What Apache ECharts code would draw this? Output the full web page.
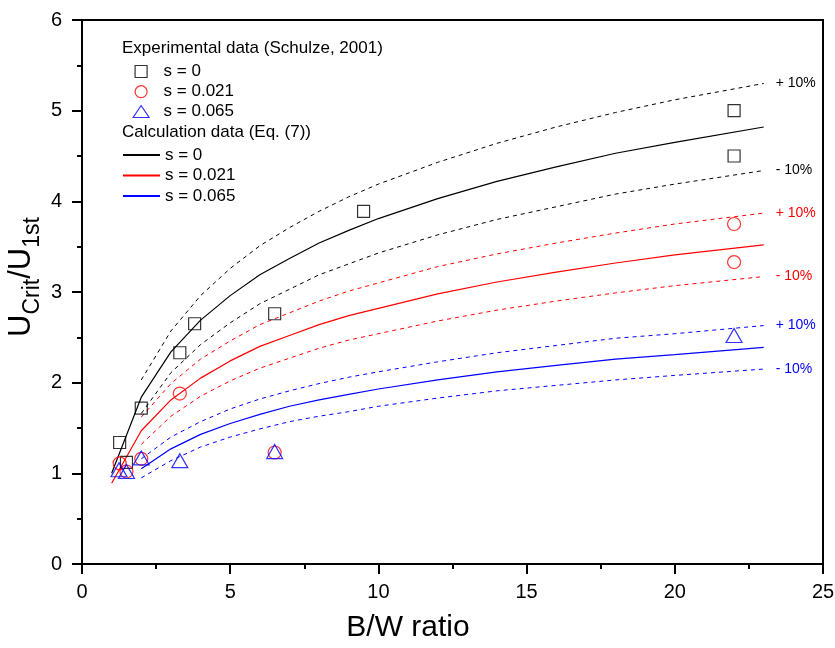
<!DOCTYPE html>
<html><head><meta charset="utf-8">
<script src="https://cdn.jsdelivr.net/npm/echarts@6/dist/echarts.min.js"></script>
<style>html,body{margin:0;padding:0;background:#fff}#c{width:835px;height:648px}</style>
</head><body><div id="c"></div>
<script>
// ---- Experimental data (Schulze, 2001) ----
const expBW_s0    = [1.27, 1.5, 2.0, 3.3, 3.8, 6.5, 9.5, 22, 22];
const expU_s0     = [1.34, 1.12, 1.72, 2.33, 2.65, 2.76, 3.89, 5.00, 4.50];
const expBW_s021  = [1.27, 1.5, 2.0, 3.3, 6.5, 22, 22];
const expU_s021   = [1.11, 1.02, 1.16, 1.88, 1.23, 3.75, 3.33];
const expBW_s065  = [1.25, 1.5, 2.0, 3.3, 6.5, 22];
const expU_s065   = [1.04, 1.02, 1.17, 1.14, 1.24, 2.52];

// ---- Calculation data (Eq. (7)) ----
const calcBW      = [1, 2, 3, 4, 5, 6, 7, 8, 9, 10, 12, 14, 16, 18, 20, 23];
const calcU_s0    = [1.00, 1.84, 2.34, 2.69, 2.96, 3.19, 3.37, 3.54, 3.68, 3.81, 4.03, 4.22, 4.38, 4.53, 4.65, 4.82];
const calcU_s021  = [0.89, 1.47, 1.81, 2.05, 2.24, 2.40, 2.52, 2.64, 2.74, 2.82, 2.98, 3.11, 3.22, 3.32, 3.41, 3.52];
const bandBW      = [2, 3, 4, 5, 6, 7, 8, 9, 10, 12, 14, 16, 18, 20, 23];
const calcU_s065  = [1.05, 1.27, 1.43, 1.55, 1.65, 1.74, 1.81, 1.87, 1.93, 2.03, 2.12, 2.19, 2.26, 2.31, 2.39];
const upU_s0      = [2.03, 2.57, 2.96, 3.26, 3.51, 3.71, 3.89, 4.05, 4.19, 4.43, 4.64, 4.82, 4.98, 5.12, 5.30];
const loU_s0      = [1.66, 2.11, 2.42, 2.66, 2.87, 3.03, 3.19, 3.31, 3.43, 3.63, 3.80, 3.94, 4.08, 4.19, 4.34];
const upU_s021    = [1.62, 1.99, 2.26, 2.46, 2.64, 2.77, 2.90, 3.01, 3.10, 3.28, 3.42, 3.54, 3.65, 3.75, 3.87];
const loU_s021    = [1.32, 1.63, 1.85, 2.02, 2.16, 2.27, 2.38, 2.47, 2.54, 2.68, 2.80, 2.90, 2.99, 3.07, 3.17];
const upU_s065    = [1.16, 1.40, 1.57, 1.71, 1.82, 1.91, 1.99, 2.06, 2.12, 2.23, 2.33, 2.41, 2.49, 2.54, 2.63];
const loU_s065    = [0.95, 1.14, 1.29, 1.40, 1.49, 1.57, 1.63, 1.68, 1.74, 1.83, 1.91, 1.97, 2.03, 2.08, 2.15];

// ---- Labels ----
const seriesLabels = ['s = 0', 's = 0.021', 's = 0.065'];
const plusLabel  = '+ 10%';
const minusLabel = '- 10%';
const xTicks = [0, 5, 10, 15, 20, 25];
const yTicks = [0, 1, 2, 3, 4, 5, 6];

const FONT = '"Liberation Sans", Arial, Helvetica, sans-serif';
const BLACK = '#000000', RED = '#ff0000', BLUE = '#0000ff';
const pairs = (xs, ys) => xs.map((x, i) => [x, ys[i]]);

function expSeries(name, xs, ys, symbol, size, color) {
  return { type: 'scatter', name, data: pairs(xs, ys), symbol, symbolSize: size,
    itemStyle: { color: 'rgba(0,0,0,0)', borderColor: color, borderWidth: 1.2 },
    z: 5, silent: true };
}
function calcSeries(name, xs, ys, color) {
  return { type: 'line', name, data: pairs(xs, ys), symbol: 'none', showSymbol: false,
    lineStyle: { color, width: 1.2 }, itemStyle: { color }, z: 3, silent: true };
}
function bandSeries(name, xs, ys, color, label) {
  return { type: 'line', name, data: pairs(xs, ys), symbol: 'none', showSymbol: false,
    lineStyle: { color, width: 1, type: [4, 4] }, itemStyle: { color }, z: 2, silent: true,
    endLabel: { show: true, formatter: label, color, fontSize: 14, fontFamily: FONT, distance: 12 } };
}

const chart = echarts.init(document.getElementById('c'), null, { renderer: 'canvas' });
const axisLine = { show: true, onZero: false, lineStyle: { color: '#000', width: 2 } };
const legendText = { color: '#000', fontSize: 17, fontFamily: FONT };

chart.setOption({
  animation: false,
  backgroundColor: '#fff',
  grid: { left: 82, right: 12, top: 20, bottom: 84, containLabel: false, outerBoundsMode: 'none',
    show: true, borderColor: '#000', borderWidth: 2, backgroundColor: 'transparent' },
  xAxis: {
    type: 'value', min: xTicks[0], max: xTicks[xTicks.length - 1], interval: 5,
    axisLine, splitLine: { show: false },
    axisTick: { show: true, inside: false, length: 10, lineStyle: { color: '#000', width: 2 } },
    minorTick: { show: true, splitNumber: 2, length: 5, lineStyle: { color: '#000', width: 2 } },
    axisLabel: { color: '#000', fontSize: 20, fontFamily: FONT, margin: 18 },
    name: 'B/W ratio', nameLocation: 'middle', nameGap: 49, nameMoveOverlap: false,
    nameTextStyle: { color: '#000', fontSize: 30, fontFamily: FONT, padding: [0, 89, 0, 0] }
  },
  yAxis: {
    type: 'value', min: yTicks[0], max: yTicks[yTicks.length - 1], interval: 1,
    axisLine, splitLine: { show: false },
    axisTick: { show: true, inside: false, length: 10, lineStyle: { color: '#000', width: 2 } },
    minorTick: { show: true, splitNumber: 2, length: 5, lineStyle: { color: '#000', width: 2 } },
    axisLabel: { color: '#000', fontSize: 20, fontFamily: FONT, margin: 20 },
    name: '{m|U}{s|Crit}{m|/U}{s|1st}', nameLocation: 'middle', nameRotate: 90, nameGap: 38,
    nameMoveOverlap: false,
    nameTextStyle: {
      padding: [0, 0, 0, 30],
      rich: {
        m: { fontSize: 31, fontFamily: FONT, color: '#000', verticalAlign: 'bottom', lineHeight: 31, padding: [0, 0, 7, 0] },
        s: { fontSize: 23, fontFamily: FONT, color: '#000', verticalAlign: 'bottom', lineHeight: 23 }
      }
    }
  },
  legend: [
    {
      left: 134.5, top: 63, orient: 'vertical', padding: 0, itemGap: 3.2, itemWidth: 12, itemHeight: 12,
      selectedMode: false, textStyle: Object.assign({ padding: [0, 0, 0, 11.5] }, legendText),
      data: [
        { name: seriesLabels[0], icon: 'rect', itemStyle: { color: 'rgba(0,0,0,0)', borderColor: BLACK, borderWidth: 1.2 } },
        { name: seriesLabels[1], icon: 'circle', itemStyle: { color: 'rgba(0,0,0,0)', borderColor: RED, borderWidth: 1.2 } }
      ]
    },
    {
      left: 132.5, top: 103, orient: 'vertical', padding: 0, itemWidth: 16, itemHeight: 12,
      selectedMode: false, textStyle: Object.assign({ padding: [0, 0, 0, 9.5] }, legendText),
      data: [
        { name: seriesLabels[2], icon: 'triangle', itemStyle: { color: 'rgba(0,0,0,0)', borderColor: BLUE, borderWidth: 1.2 } }
      ]
    },
    {
      left: 122, top: 146.5, orient: 'vertical', padding: 0, itemGap: 3.5, itemWidth: 37, itemHeight: 12,
      selectedMode: false, textStyle: legendText,
      itemStyle: { color: 'rgba(0,0,0,0)', borderWidth: 0, opacity: 0 },
      formatter: n => n.replace(/^calc /, ''),
      data: ['calc ' + seriesLabels[0], 'calc ' + seriesLabels[1], 'calc ' + seriesLabels[2]]
    }
  ],
  graphic: [
    { type: 'text', left: 122, top: 40, silent: true,
      style: { text: 'Experimental data (Schulze, 2001)', fill: '#000', font: '17px ' + FONT } },
    { type: 'text', left: 122, top: 124, silent: true,
      style: { text: 'Calculation data (Eq. (7))', fill: '#000', font: '17px ' + FONT } }
  ],
  series: [
    bandSeries('s0 +10', bandBW, upU_s0, BLACK, plusLabel),
    bandSeries('s0 -10', bandBW, loU_s0, BLACK, minusLabel),
    bandSeries('s021 +10', bandBW, upU_s021, RED, plusLabel),
    bandSeries('s021 -10', bandBW, loU_s021, RED, minusLabel),
    bandSeries('s065 +10', bandBW, upU_s065, BLUE, plusLabel),
    bandSeries('s065 -10', bandBW, loU_s065, BLUE, minusLabel),
    calcSeries('calc ' + seriesLabels[0], calcBW, calcU_s0, BLACK),
    calcSeries('calc ' + seriesLabels[1], calcBW, calcU_s021, RED),
    calcSeries('calc ' + seriesLabels[2], bandBW, calcU_s065, BLUE),
    expSeries(seriesLabels[0], expBW_s0, expU_s0, 'rect', 12, BLACK),
    expSeries(seriesLabels[1], expBW_s021, expU_s021, 'circle', 13, RED),
    expSeries(seriesLabels[2], expBW_s065, expU_s065, 'triangle', [16, 14], BLUE)
  ]
});
</script>
</body></html>
